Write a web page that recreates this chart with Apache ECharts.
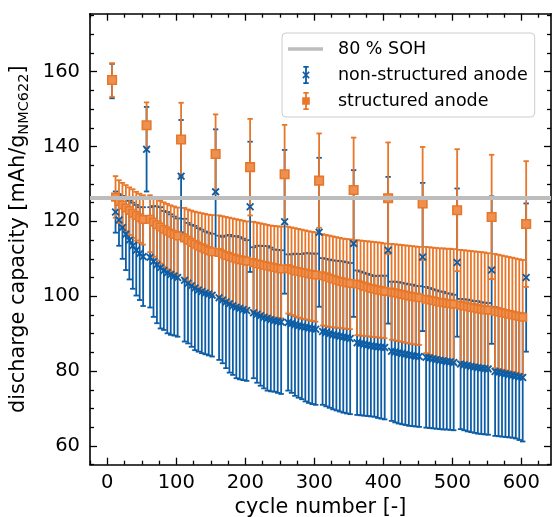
<!DOCTYPE html>
<html><head><meta charset="utf-8">
<script src="https://cdn.jsdelivr.net/npm/echarts@6/dist/echarts.min.js"></script>
<style>html,body{margin:0;padding:0;background:#fff}#c{width:553px;height:517px}</style>
</head><body><div id="c"></div>
<script>
// ---------- data ----------
const checkupCycles = [7,57,107,157,207,257,307,357,407,457,507,557,607];
const regularCycles = [
 12,17,22,27,32,37,42,47,52, 62,67,72,77,82,87,92,97,102,
 112,117,122,127,132,137,142,147,152, 162,167,172,177,182,187,192,197,202,
 212,217,222,227,232,237,242,247,252, 262,267,272,277,282,287,292,297,302,
 312,317,322,327,332,337,342,347,352, 362,367,372,377,382,387,392,397,402,
 412,417,422,427,432,437,442,447,452, 462,467,472,477,482,487,492,497,502,
 512,517,522,527,532,537,542,547,552, 562,567,572,577,582,587,592,597,602];

// non-structured anode (blue): mean and symmetric error
const blueCheckMean = [157.5,139.3,132.1,127.9,123.9,119.9,117.1,114.1,112.3,110.5,109.0,107.0,105.0];
const blueCheckErr  = [4.6,11.3,15.0,16.7,17.4,19.2,19.9,19.6,19.6,19.8,19.8,19.7,19.8];
const blueMean = [
 122.5,120.4,118.4,116.6,115.0,113.5,112.3,111.4,110.6, 110.4,109.3,108.4,107.6,106.9,106.3,105.8,105.4,105.0,
 104.3,103.5,102.8,102.2,101.7,101.3,100.9,100.6,100.3, 99.6,99.0,98.5,98.0,97.5,97.1,96.8,96.5,96.2,
 95.6,95.2,94.8,94.4,94.1,93.8,93.5,93.3,93.1, 93.0,92.7,92.4,92.1,91.9,91.7,91.5,91.3,91.2,
 90.6,90.3,90.0,89.7,89.5,89.3,89.1,88.9,88.7, 87.6,87.4,87.2,87.0,86.8,86.6,86.5,86.4,86.3,
 85.3,85.1,84.9,84.7,84.5,84.3,84.2,84.0,83.9, 83.7,83.5,83.3,83.1,82.9,82.8,82.6,82.5,82.3,
 81.9,81.7,81.5,81.3,81.1,81.0,80.8,80.7,80.6, 79.9,79.7,79.5,79.3,79.1,78.9,78.7,78.5,78.3];
const blueErr = [
 5.5,6.9,8.4,9.6,10.5,11.5,12.1,12.4,13.2, 13.4,14.8,15.6,16.2,15.9,16.2,16.1,15.9,15.8,
 16.4,16.1,16.3,16.6,16.5,16.5,16.4,16.4,16.4, 16.6,16.9,17.7,18.4,18.5,19.0,19.0,18.9,18.8,
 17.5,18.3,18.7,19.0,19.3,19.2,19.0,19.1,19.2, 18.2,18.5,19.0,19.2,19.4,19.8,20.0,20.1,20.2,
 19.6,19.7,19.8,19.9,20.0,20.1,20.2,20.2,20.2, 19.3,19.2,19.1,19.0,18.9,18.8,19.0,19.1,19.2,
 18.6,18.8,18.9,18.9,18.9,18.9,18.9,18.8,18.8, 18.8,18.7,18.6,18.5,18.4,18.4,18.2,18.2,18.1,
 17.4,17.5,17.6,17.6,17.6,17.7,17.6,17.6,17.6, 17.2,17.1,17.0,16.9,16.8,16.7,16.7,16.9,17.1];

// structured anode (orange): mean, lower and upper bar ends
const orangeCheckMean = [157.8,145.7,141.9,138.0,134.5,132.6,130.9,128.4,126.2,124.8,123.0,121.2,119.3];
const orangeCheckErr  = [4.5,6.1,9.8,10.6,12.9,13.2,12.6,14.0,14.9,15.1,16.3,16.6,16.8];
const orangeMean = [
 126.5,125.3,124.4,123.6,122.9,122.2,121.6,121.0,120.5, 120.6,119.8,119.1,118.5,117.9,117.4,116.9,116.5,116.1,
 115.6,115.0,114.4,113.9,113.4,113.0,112.6,112.2,111.9, 111.7,111.3,110.9,110.6,110.3,110.0,109.8,109.6,109.4,
 109.0,108.7,108.5,108.3,108.1,107.9,107.7,107.5,107.3, 107.4,107.1,106.8,106.6,106.4,106.2,106.0,105.8,105.7,
 105.5,105.2,104.9,104.6,104.3,104.0,103.8,103.6,103.4, 103.3,103.0,102.7,102.4,102.1,101.9,101.7,101.5,101.3,
 101.1,100.9,100.7,100.5,100.3,100.1,99.9,99.8,99.6, 99.2,99.0,98.8,98.6,98.4,98.3,98.1,98.0,97.9,
 97.6,97.4,97.2,97.0,96.9,96.7,96.5,96.4,96.3, 96.0,95.8,95.6,95.4,95.2,95.0,94.8,94.6,94.4];
const orangeLow = [
 121.0,119.6,118.4,117.4,116.4,115.6,114.9,114.3,113.8, 111.8,110.6,109.6,108.7,107.9,107.2,106.6,106.1,105.6,
 104.4,103.6,102.9,102.3,101.8,101.3,100.9,100.5,100.1, 99.4,98.9,98.4,97.9,97.5,97.1,96.8,96.5,96.2,
 95.8,95.5,95.2,94.9,94.7,94.5,94.3,94.2,94.1, 95.4,95.0,94.6,94.3,94.0,93.8,93.6,93.4,93.2,
 92.2,92.0,91.8,91.7,91.6,91.5,91.4,91.3,91.2, 89.6,89.5,89.4,89.3,89.2,89.1,89.0,88.9,88.8,
 88.4,88.2,88.0,87.8,87.6,87.4,87.2,87.1,87.0, 84.8,84.4,84.0,83.7,83.4,83.0,82.7,82.4,82.1,
 81.6,81.5,81.3,81.2,81.0,80.9,80.7,80.5,80.3, 80.8,80.6,80.4,80.2,80.0,79.8,79.6,79.3,79.0];
const orangeHigh = [
 132.1,131.0,130.3,129.7,129.1,128.6,127.9,127.4,127.0, 127.0,126.5,126.0,125.5,125.1,124.7,124.3,124.0,123.7,
 123.6,123.2,122.9,122.6,122.4,122.2,122.0,121.8,121.7, 121.6,121.4,121.2,121.0,120.8,120.6,120.4,120.2,120.0,
 119.9,119.7,119.5,119.3,119.1,118.9,118.8,118.7,118.6, 118.6,118.4,118.2,118.0,117.8,117.6,117.4,117.2,117.1,
 116.6,116.4,116.2,116.0,115.8,115.6,115.4,115.3,115.2, 115.0,114.9,114.8,114.7,114.6,114.5,114.4,114.3,114.1,
 114.0,113.9,113.8,113.7,113.6,113.5,113.4,113.3,113.2, 113.2,113.1,113.0,112.9,112.8,112.8,112.7,112.7,112.6,
 112.4,112.3,112.2,112.1,112.0,111.9,111.8,111.7,111.5, 111.3,111.1,110.9,110.7,110.5,110.3,110.1,109.9,109.7];

const sohLevel = 126.2;
const xTicks = [0,100,200,300,400,500,600];
const yTicks = [60,80,100,120,140,160];
const seriesNames = ['80 % SOH','non-structured anode','structured anode'];

// ---------- build ----------
const BLUE = '#0C5DA5', ORANGE = '#E8772A', GREY = '#BDBDBD';
const FONT = 'DejaVu Sans';
const X_MIN = -25, X_MAX = 643, Y_MIN = 55, Y_MAX = 175.5;

function minorList(min, max, step, majors) {
  const out = [];
  for (let v = Math.ceil(min / step) * step; v <= max; v += step) {
    if (majors.indexOf(v) < 0) out.push(v);
  }
  return out;
}
const xMinor = minorList(X_MIN, X_MAX, 25, xTicks);
const yMinor = minorList(Y_MIN, Y_MAX, 5, yTicks);

// rows: [x, low, high, marker]
const blueBars = regularCycles.map((x, i) => [x, blueMean[i] - blueErr[i], blueMean[i] + blueErr[i], blueMean[i]])
  .concat(checkupCycles.map((x, i) => [x, blueCheckMean[i] - blueCheckErr[i], blueCheckMean[i] + blueCheckErr[i], blueCheckMean[i]]));
const orangeBars = regularCycles.map((x, i) => [x, orangeLow[i], orangeHigh[i], orangeMean[i]]);
const orangeCheckBars = checkupCycles.map((x, i) => [x, orangeCheckMean[i] - orangeCheckErr[i], orangeCheckMean[i] + orangeCheckErr[i], orangeCheckMean[i]]);

function errRender(color, cap, lw) {
  return function (params, api) {
    const x = api.value(0);
    const a = api.coord([x, api.value(2)]);
    const b = api.coord([x, api.value(1)]);
    const st = {stroke: color, lineWidth: lw};
    return {type: 'group', children: [
      {type: 'line', shape: {x1: a[0], y1: a[1], x2: b[0], y2: b[1]}, style: st},
      {type: 'line', shape: {x1: a[0] - cap, y1: a[1], x2: a[0] + cap, y2: a[1]}, style: st},
      {type: 'line', shape: {x1: b[0] - cap, y1: b[1], x2: b[0] + cap, y2: b[1]}, style: st}
    ]};
  };
}

const X_SYMBOL = 'path://M0,1.6 L1.6,0 L5,3.4 L8.4,0 L10,1.6 L6.6,5 L10,8.4 L8.4,10 L5,6.6 L1.6,10 L0,8.4 L3.4,5 Z';
const BOX = 'M0,0 M45,20 ';
const BAR = 'M17.1,1.8 L18.9,1.8 L18.9,18.2 L17.1,18.2 Z M15.3,1 L20.7,1 L20.7,2.7 L15.3,2.7 Z M15.3,17.3 L20.7,17.3 L20.7,19 L15.3,19 Z ';
const iconSoh = 'path://' + BOX + 'M0,8.2 L35,8.2 L35,11.8 L0,11.8 Z';
const iconBlue = 'path://' + BOX + BAR + 'M14.3,7.4 L15.4,6.3 L18,8.9 L20.6,6.3 L21.7,7.4 L19.1,10 L21.7,12.6 L20.6,13.7 L18,11.1 L15.4,13.7 L14.3,12.6 L16.9,10 Z';
const iconOrange = 'path://' + BOX + BAR + 'M14.2,6.2 L21.8,6.2 L21.8,13.8 L14.2,13.8 Z';

const lineStyleAx = {color: '#000', width: 1.6};
function makeAxis(dim, pos, ticks, len, showLine, labels) {
  const labelVals = dim === 'x' ? xTicks : yTicks;
  return {type: 'value', position: pos,
    min: dim === 'x' ? X_MIN : Y_MIN, max: dim === 'x' ? X_MAX : Y_MAX,
    axisLine: {show: showLine, onZero: false, lineStyle: lineStyleAx},
    axisTick: {show: true, inside: true, length: len, customValues: ticks, lineStyle: {color: '#000', width: 1.3}},
    axisLabel: labels ? {show: true, customValues: labelVals, color: '#000', fontSize: 19.5, fontFamily: FONT, margin: dim === 'x' ? 8 : 10} : {show: false},
    splitLine: {show: false}};
}

const xAxes = [makeAxis('x', 'bottom', xTicks, 7, true, true), makeAxis('x', 'bottom', xMinor, 4, false, false),
               makeAxis('x', 'top', xTicks, 7, true, false), makeAxis('x', 'top', xMinor, 4, false, false)];
Object.assign(xAxes[0], {name: 'cycle number [-]', nameLocation: 'middle', nameGap: 31,
  nameTextStyle: {fontSize: 20.8, fontFamily: FONT, color: '#000'}});
const yAxes = [makeAxis('y', 'left', yTicks, 7, true, true), makeAxis('y', 'left', yMinor, 4, false, false),
               makeAxis('y', 'right', yTicks, 7, true, false), makeAxis('y', 'right', yMinor, 4, false, false)];
Object.assign(yAxes[0], {name: '{m|discharge capacity [mAh/g}{s|NMC622}{m|]}', nameLocation: 'middle', nameGap: 53, nameRotate: 90,
  nameTextStyle: {color: '#000', rich: {
    m: {fontSize: 20.8, fontFamily: FONT, color: '#000', lineHeight: 26},
    s: {fontSize: 14.5, fontFamily: FONT, color: '#000', lineHeight: 14, verticalAlign: 'bottom'}}}});

const chart = echarts.init(document.getElementById('c'), null, {renderer: 'canvas'});
chart.setOption({
  animation: false,
  backgroundColor: '#fff',
  textStyle: {fontFamily: FONT},
  grid: {left: 90, right: 2, top: 13.7, bottom: 52.3, containLabel: false, outerBoundsMode: 'none'},
  xAxis: xAxes,
  yAxis: yAxes,
  legend: {
    left: 282, top: 33, orient: 'vertical', itemWidth: 45, itemHeight: 20, itemGap: 6,
    padding: [6, 7, 6, 6], borderColor: '#cccccc', borderWidth: 1, borderRadius: 4,
    backgroundColor: 'rgba(255,255,255,0.8)',
    textStyle: {fontSize: 17.5, fontFamily: FONT, color: '#000'},
    data: [{name: seriesNames[0], icon: iconSoh}, {name: seriesNames[1], icon: iconBlue}, {name: seriesNames[2], icon: iconOrange}]
  },
  series: [
    {name: seriesNames[0], type: 'line', data: [], itemStyle: {color: GREY}, lineStyle: {color: GREY},
     markLine: {silent: true, symbol: 'none', label: {show: false}, lineStyle: {color: GREY, width: 4, type: 'solid'},
                data: [{yAxis: sohLevel}]}},
    {name: seriesNames[1], type: 'custom', data: blueBars, itemStyle: {color: BLUE},
     encode: {x: 0, y: [1, 2]}, renderItem: errRender(BLUE, 2.7, 1.8)},
    {name: seriesNames[1], type: 'scatter', data: blueBars.map(d => [d[0], d[3]]), symbol: X_SYMBOL, symbolSize: 8,
     itemStyle: {color: BLUE, opacity: 1}},
    {name: seriesNames[2], type: 'custom', data: orangeBars.concat(orangeCheckBars), itemStyle: {color: ORANGE},
     encode: {x: 0, y: [1, 2]}, renderItem: errRender(ORANGE, 2.7, 1.8)},
    {name: seriesNames[2], type: 'scatter', data: orangeBars.map(d => [d[0], d[3]]), symbol: 'rect', symbolSize: 7.5,
     itemStyle: {color: '#EE9150', borderColor: ORANGE, borderWidth: 1.6, opacity: 1}},
    {name: seriesNames[2], type: 'scatter', data: orangeCheckBars.map(d => [d[0], d[3]]), symbol: 'rect', symbolSize: 8.5,
     itemStyle: {color: '#EE9150', borderColor: ORANGE, borderWidth: 1.6, opacity: 1}}
  ]
});
</script></body></html>
